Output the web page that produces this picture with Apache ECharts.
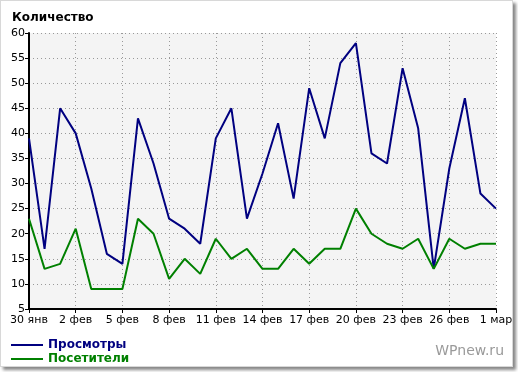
<!DOCTYPE html>
<html><head><meta charset="utf-8">
<script src="https://cdn.jsdelivr.net/npm/echarts@6/dist/echarts.min.js"></script>
<style>
html,body{margin:0;padding:0;background:#fff;}
#frame{position:absolute;left:0;top:0;width:511px;height:365px;border:1px solid #d8d8d8;box-shadow:3px 3px 3px #888;background:#fff;}
#c{position:absolute;left:0;top:0;width:518px;height:372px;}
</style></head>
<body>
<div id="frame"></div>
<div id="c"></div>
<script>
const categories = ['30 янв','31 янв','1 фев','2 фев','3 фев','4 фев','5 фев','6 фев','7 фев','8 фев','9 фев','10 фев','11 фев','12 фев','13 фев','14 фев','15 фев','16 фев','17 фев','18 фев','19 фев','20 фев','21 фев','22 фев','23 фев','24 фев','25 фев','26 фев','27 фев','28 фев','1 мар'];
const views =    [39,17,45,40,29,16,14,43,34,23,21,18,39,45,23,32,42,27,49,39,54,58,36,34,53,41,13,33,47,28,25];
const visitors = [23,13,14,21, 9, 9, 9,23,20,11,15,12,19,15,17,13,13,17,14,17,17,25,20,18,17,19,13,19,17,18,18];
const yTicks = {min:5, max:60, step:5};

const chart = echarts.init(document.getElementById('c'));
const font = 'DejaVu Sans';
chart.setOption({
  animation:false,
  backgroundColor:'transparent',
  title:{text:'Количество',left:7,top:7,textStyle:{fontFamily:font,fontSize:12,fontWeight:'bold',color:'#000'}},
  grid:{left:29,right:22,top:33,bottom:63,show:true,backgroundColor:'#f4f4f4',borderWidth:0},
  legend:{orient:'vertical',left:6,top:334,itemGap:2,itemWidth:32,itemHeight:10,icon:'path://M0,4L32,4L32,6L0,6Z',
    textStyle:{fontFamily:font,fontSize:12,fontWeight:'bold',color:'inherit'},
    data:[{name:'Просмотры',textStyle:{color:'#000080'}},{name:'Посетители',textStyle:{color:'#008000'}}]},
  xAxis:{type:'category',data:categories,boundaryGap:false,
    axisLine:{lineStyle:{color:'#000',width:2}},
    axisTick:{interval:2,length:4,lineStyle:{color:'#000'}},
    axisLabel:{interval:2,color:'#000',fontFamily:font,fontSize:11,margin:6},
    splitLine:{show:true,interval:2,lineStyle:{color:'#999',type:[1,3],width:1}}},
  yAxis:{type:'value',min:yTicks.min,max:yTicks.max,interval:yTicks.step,
    axisLine:{show:true,lineStyle:{color:'#000',width:2}},
    axisTick:{show:true,length:4,lineStyle:{color:'#000'}},
    axisLabel:{color:'#000',fontFamily:font,fontSize:11,margin:4},
    splitLine:{show:true,lineStyle:{color:'#999',type:[1,3],width:1}}},
  graphic:[{type:'text',right:14,bottom:14,style:{text:'WPnew.ru',fill:'#9a9a9a',font:'14px '+font}}],
  series:[
    {name:'Просмотры',type:'line',data:views,symbol:'none',lineStyle:{color:'#000080',width:2},itemStyle:{color:'#000080'}},
    {name:'Посетители',type:'line',data:visitors,symbol:'none',lineStyle:{color:'#008000',width:2},itemStyle:{color:'#008000'}}
  ]
});
</script>
</body></html>
